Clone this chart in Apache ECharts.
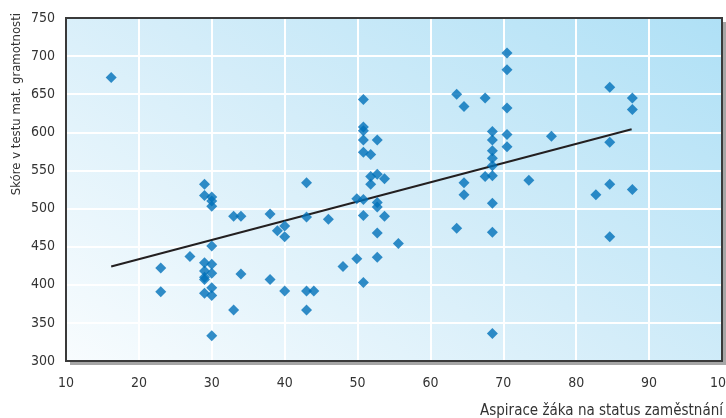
<!DOCTYPE html>
<html>
<head>
<meta charset="utf-8">
<script src="https://cdn.jsdelivr.net/npm/echarts@6/dist/echarts.min.js"></script>
<style>html,body{margin:0;padding:0;background:#fff;overflow:hidden}#c{width:726px;height:418px}</style>
</head>
<body>
<div id="c"></div>
<script>
// Aspirace žáka (x) vs skóre (y)
const aspX = [16.2,23,23,27,29,29,29,29,29,29,29,30,30,30,30,30,30,30,30,30,33,33,34,34,38,38,39,40,40,40,43,43,43,43,44,46,48,49.9,49.9,50.8,50.8,50.8,50.8,50.8,50.8,50.8,50.8,51.8,51.8,51.8,52.7,52.7,52.7,52.7,52.7,52.7,53.7,53.7,55.6,63.6,63.6,64.6,64.6,64.6,67.5,67.5,68.5,68.5,68.5,68.5,68.5,68.5,68.5,68.5,68.5,70.5,70.5,70.5,70.5,70.5,73.5,76.6,82.7,84.6,84.6,84.6,84.6,87.7,87.7,87.7];
const skore = [672,422,391,437,532,517,429,418,410,407,389,515,510,503,451,427,415,396,386,333,490,367,490,414,493,407,471,477,463,392,534,489,392,367,392,486,424,513,434,643,607,602,590,574,512,491,403,571,542,532,590,545,508,502,468,436,539,490,454,650,474,634,534,518,645,542,601,590,576,566,556,543,507,469,336,704,682,632,597,581,537,595,518,659,587,532,463,645,630,525];
const trendX = [16.2, 87.6];
const trendY = [424, 604];
const xTicks = [10,20,30,40,50,60,70,80,90,100];
const yTicks = [300,350,400,450,500,550,600,650,700,750];
const yTitle = 'Skóre v testu mat. gramotnosti';
const xTitle = 'Aspirace žáka na status zaměstnání';

const FONT = '"Liberation Sans Narrow","Arial Narrow","DejaVu Sans Condensed",sans-serif';
const GL = 66, GT = 18, GR = 4, GB = 57;
const W = 726, H = 418;
const chart = echarts.init(document.getElementById('c'), null, {renderer:'canvas'});
chart.setOption({
  animation:false,
  grid:{left:GL,top:GT,right:GR,bottom:GB,show:true,containLabel:false,outerBoundsMode:'none',
    backgroundColor:{type:'linear',global:true,x:GL,y:H-GB,x2:GL+420,y2:GT-260,colorStops:[
      {offset:0,color:'#f8fcfe'},{offset:0.45,color:'#d4edf9'},{offset:1,color:'#a6ddf5'}]},
    borderColor:'#3a3a3a',borderWidth:0,
    shadowColor:'#a6a6a6',shadowBlur:0,shadowOffsetX:4,shadowOffsetY:4},
  xAxis:{type:'value',min:xTicks[0],max:xTicks[xTicks.length-1],interval:10,
    axisLine:{show:false},axisTick:{show:false},
    axisLabel:{color:'#333',fontFamily:FONT,fontSize:14,margin:15},
    splitLine:{show:true,lineStyle:{color:'#ffffff',width:2}}},
  yAxis:{type:'value',min:yTicks[0],max:yTicks[yTicks.length-1],interval:50,
    axisLine:{show:false},axisTick:{show:false},
    axisLabel:{color:'#333',fontFamily:FONT,fontSize:14,margin:11},
    splitLine:{show:true,lineStyle:{color:'#ffffff',width:2}}},
  graphic:[
    {type:'rect',x:GL,y:GT,z:100,silent:true,
      shape:{x:0,y:0,width:W-GL-GR,height:H-GT-GB},
      style:{fill:'none',stroke:'#3a3a3a',lineWidth:2}},
    {type:'text',x:17,y:13,rotation:Math.PI/2,
      style:{text:yTitle,fill:'#333',font:'13px '+FONT,textAlign:'right',textVerticalAlign:'middle'}},
    {type:'text',x:723,y:411,
      style:{text:xTitle,fill:'#333',font:'15px '+FONT,textAlign:'right',textVerticalAlign:'middle'}}
  ],
  series:[
    {type:'line',data:trendX.map((x,i)=>[x,trendY[i]]),symbol:'none',
      lineStyle:{color:'#231f20',width:2},z:3},
    {type:'scatter',data:aspX.map((x,i)=>[x,skore[i]]),symbol:'diamond',symbolSize:11,
      itemStyle:{color:'#0070b9'},z:4}
  ]
});
</script>
</body>
</html>
